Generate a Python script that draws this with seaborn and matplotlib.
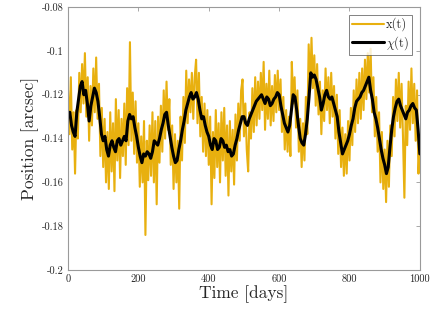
import numpy as np
import pandas as pd
import matplotlib
matplotlib.use("Agg")
import matplotlib.pyplot as plt
import seaborn as sns

# raw position x(t), read every 4 days
days_x = np.arange(0, 1001, 4)
pos_x = [
    -0.118, -0.138, -0.112, -0.145, -0.128, -0.156, -0.127, -0.140, -0.110, -0.128,
    -0.106, -0.124, -0.101, -0.130, -0.112, -0.141, -0.116, -0.134, -0.108, -0.128,
    -0.103, -0.131, -0.115, -0.148, -0.126,
    -0.153, -0.131, -0.160, -0.137, -0.163, -0.128, -0.155, -0.133, -0.164, -0.122,
    -0.150, -0.127, -0.158, -0.131, -0.148, -0.124, -0.152, -0.117, -0.143, -0.096,
    -0.141, -0.119, -0.147, -0.123, -0.151,
    -0.133, -0.162, -0.139, -0.160, -0.132, -0.184, -0.141, -0.159, -0.134, -0.157,
    -0.128, -0.160, -0.132, -0.170, -0.130, -0.151, -0.125, -0.146, -0.118, -0.140,
    -0.114, -0.136, -0.122, -0.152, -0.134,
    -0.163, -0.138, -0.160, -0.141, -0.172, -0.130, -0.150, -0.121, -0.142, -0.109,
    -0.133, -0.113, -0.128, -0.110, -0.131, -0.112, -0.104, -0.133, -0.110, -0.139,
    -0.121, -0.146, -0.124, -0.148, -0.127,
    -0.152, -0.130, -0.170, -0.137, -0.158, -0.127, -0.153, -0.133, -0.160, -0.128,
    -0.150, -0.126, -0.157, -0.134, -0.166, -0.132, -0.155, -0.136, -0.161, -0.129,
    -0.150, -0.124, -0.141, -0.118, -0.113,
    -0.139, -0.124, -0.145, -0.155, -0.128, -0.140, -0.117, -0.137, -0.112, -0.134,
    -0.114, -0.131, -0.110, -0.127, -0.105, -0.136, -0.115, -0.131, -0.109, -0.134,
    -0.116, -0.132, -0.111, -0.128, -0.109,
    -0.127, -0.113, -0.137, -0.121, -0.145, -0.127, -0.146, -0.130, -0.148, -0.105,
    -0.124, -0.112, -0.135, -0.118, -0.146, -0.131, -0.153, -0.133, -0.150, -0.121,
    -0.138, -0.097, -0.118, -0.094, -0.117,
    -0.102, -0.125, -0.106, -0.129, -0.114, -0.138, -0.118, -0.132, -0.108, -0.127,
    -0.112, -0.133, -0.110, -0.130, -0.116, -0.140, -0.120, -0.147, -0.127, -0.153,
    -0.135, -0.157, -0.138, -0.156, -0.132,
    -0.150, -0.126, -0.143, -0.118, -0.137, -0.113, -0.133, -0.110, -0.131, -0.108,
    -0.127, -0.104, -0.122, -0.101, -0.119, -0.099, -0.128, -0.112, -0.139, -0.121,
    -0.146, -0.128, -0.160, -0.137, -0.163,
    -0.145, -0.169, -0.141, -0.162, -0.134, -0.148, -0.121, -0.139, -0.113, -0.132,
    -0.110, -0.135, -0.115, -0.139, -0.167, -0.125, -0.143, -0.114, -0.136, -0.108,
    -0.133, -0.115, -0.141, -0.118, -0.156, -0.142,
]

# smoothed position chi(t), read every 5 days
days_chi = np.arange(0, 1001, 5)
pos_chi = [
    -0.130, -0.128, -0.134, -0.137, -0.139, -0.128, -0.122, -0.116, -0.114, -0.120,
    -0.118, -0.124, -0.132, -0.125, -0.121, -0.117, -0.119, -0.123, -0.130, -0.138,
    -0.141, -0.139, -0.145, -0.148, -0.143, -0.141, -0.144, -0.146, -0.141, -0.140,
    -0.143, -0.141, -0.139, -0.141, -0.132, -0.129, -0.131, -0.130, -0.135, -0.139,
    -0.144, -0.148, -0.151, -0.147, -0.148, -0.146, -0.147, -0.149, -0.146, -0.141,
    -0.142, -0.143, -0.140, -0.136, -0.133, -0.129, -0.128, -0.134, -0.139, -0.144,
    -0.148, -0.151, -0.150, -0.145, -0.141, -0.136, -0.132, -0.127, -0.124, -0.121,
    -0.119, -0.122, -0.121, -0.119, -0.122, -0.127, -0.131, -0.130, -0.134, -0.137,
    -0.139, -0.143, -0.145, -0.140, -0.141, -0.145, -0.144, -0.140, -0.141, -0.144,
    -0.143, -0.146, -0.145, -0.148, -0.147, -0.143, -0.140, -0.136, -0.133, -0.130,
    -0.130, -0.133, -0.134, -0.131, -0.129, -0.127, -0.125, -0.123, -0.122, -0.121,
    -0.120, -0.122, -0.124, -0.121, -0.122, -0.125, -0.124, -0.122, -0.121, -0.119,
    -0.120, -0.125, -0.129, -0.133, -0.135, -0.137, -0.134, -0.127, -0.120, -0.121,
    -0.127, -0.134, -0.140, -0.142, -0.143, -0.138, -0.131, -0.121, -0.110, -0.112,
    -0.111, -0.113, -0.117, -0.121, -0.127, -0.124, -0.120, -0.118, -0.121, -0.122,
    -0.121, -0.124, -0.127, -0.130, -0.137, -0.142, -0.147, -0.145, -0.143, -0.141,
    -0.138, -0.134, -0.131, -0.126, -0.123, -0.122, -0.121, -0.119, -0.118, -0.116,
    -0.114, -0.112, -0.118, -0.122, -0.128, -0.131, -0.135, -0.140, -0.145, -0.149,
    -0.152, -0.156, -0.153, -0.144, -0.136, -0.130, -0.126, -0.123, -0.122, -0.125,
    -0.127, -0.129, -0.131, -0.128, -0.127, -0.125, -0.124, -0.126, -0.127, -0.136,
    -0.147,
]

yticks = [-0.2, -0.18, -0.16, -0.14, -0.12, -0.1, -0.08]
ytick_labels = ['-0.2', '-0.18', '-0.16', '-0.14', '-0.12', '-0.1', '-0.08']
xticks = [0, 200, 400, 600, 800, 1000]

sns.set_style("white")
plt.rcParams['font.family'] = ['cmr10', 'DejaVu Serif']
plt.rcParams['mathtext.fontset'] = 'cm'
plt.rcParams['axes.unicode_minus'] = False

df_x = pd.DataFrame({'t': days_x, 'pos': pos_x})
df_chi = pd.DataFrame({'t': days_chi, 'pos': pos_chi})

fig = plt.figure(figsize=(4.36, 3.23), dpi=100)
ax = fig.add_axes([0.156, 0.164, 0.807, 0.814])

sns.lineplot(data=df_x, x='t', y='pos', color='#E8B00F', linewidth=1.5,
             label='x(t)', ax=ax)
sns.lineplot(data=df_chi, x='t', y='pos', color='black', linewidth=2.2,
             label=r'$\chi$(t)', ax=ax)

ax.set_xlim(0, 1000)
ax.set_ylim(-0.2, -0.08)
ax.set_xticks(xticks)
ax.set_xticklabels([str(v) for v in xticks])
ax.set_yticks(yticks)
ax.set_yticklabels(ytick_labels)
ax.tick_params(direction='in', top=True, right=True, length=3, width=0.6,
               colors='#9a9a9a', labelcolor='#262626', labelsize=7.5, pad=3)
for s in ax.spines.values():
    s.set_color('#9a9a9a')
    s.set_linewidth(0.8)

ax.set_xlabel('Time [days]', fontsize=12.5, color='#262626', labelpad=1)
ax.set_ylabel('Position [arcsec]', fontsize=12.5, color='#262626', labelpad=2)

leg = ax.legend(loc='upper right', fontsize=9, frameon=True, fancybox=False,
                borderpad=0.25, handlelength=2.6, handletextpad=0.15,
                labelspacing=0.2, borderaxespad=0.6)
leg.get_frame().set_edgecolor('#4a4a4a')
leg.get_frame().set_linewidth(0.6)

fig.savefig('out.png', dpi=100)
